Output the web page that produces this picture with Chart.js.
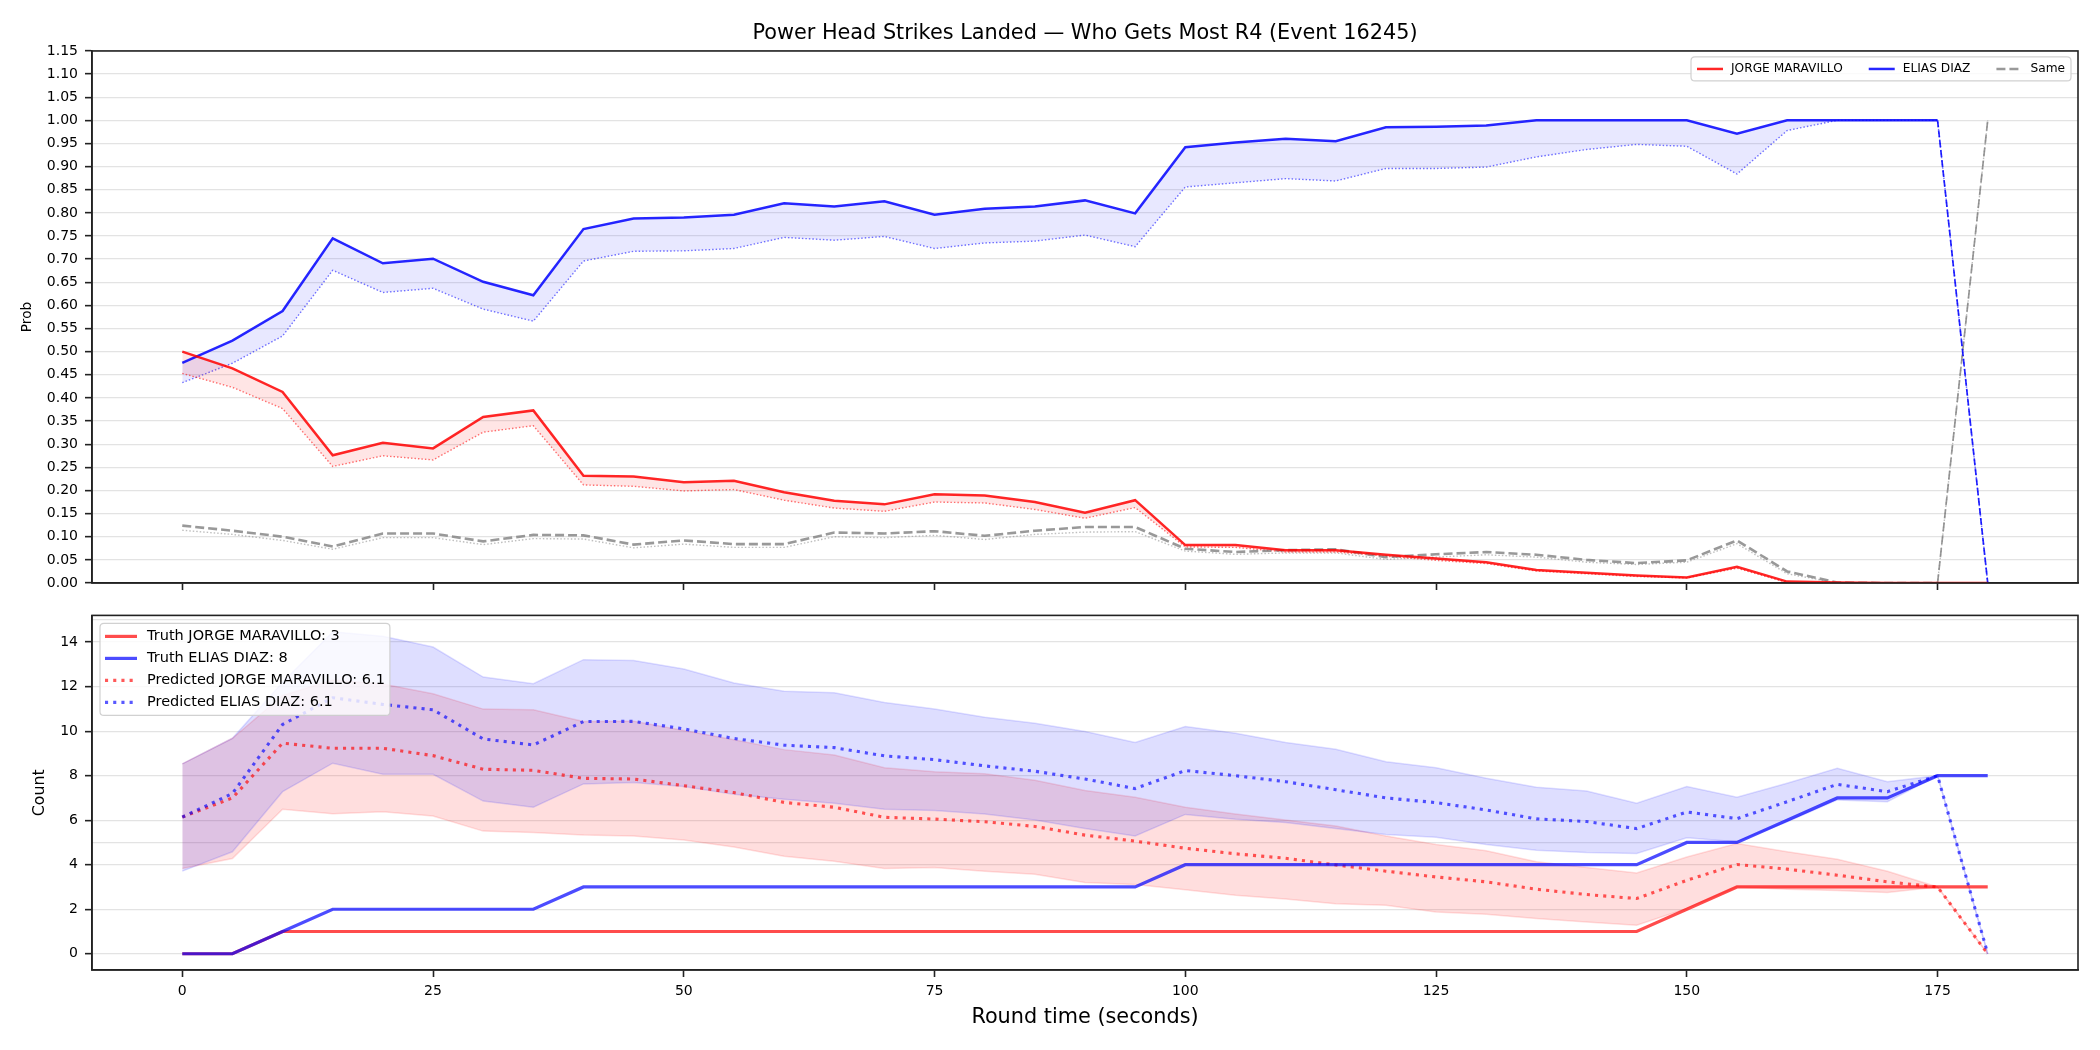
<!DOCTYPE html>
<html>
<head>
<meta charset="utf-8">
<script src="https://cdn.jsdelivr.net/npm/chart.js@4.4.1/dist/chart.umd.min.js"></script>
<style>
    html, body { margin: 0; padding: 0; background: #fff; }
    #wrap { position: relative; width: 2100px; height: 1050px; }
    #wrap canvas { position: absolute; left: 0; }
</style>
</head>
<body>
<div id="wrap">
    <canvas id="probChart" width="2100" height="600" style="top:0"></canvas>
    <canvas id="countChart" width="2100" height="450" style="top:600px"></canvas>
</div>
<script>
// ----- DATA ----- //
const roundTime = [0, 5, 10, 15, 20, 25, 30, 35, 40, 45, 50, 55, 60, 65, 70, 75, 80, 85, 90,
    95, 100, 105, 110, 115, 120, 125, 130, 135, 140, 145, 150, 155, 160, 165, 170, 175, 180];
const timeTicks = [0, 25, 50, 75, 100, 125, 150, 175];
const probTicks = [0.00, 0.05, 0.10, 0.15, 0.20, 0.25, 0.30, 0.35, 0.40, 0.45, 0.50, 0.55,
    0.60, 0.65, 0.70, 0.75, 0.80, 0.85, 0.90, 0.95, 1.00, 1.05, 1.10, 1.15];
const countTicks = [0, 2, 4, 6, 8, 10, 12, 14];
const extraCountGrid = [5, 15];

const playerA = 'JORGE MARAVILLO';
const playerB = 'ELIAS DIAZ';

// top panel: probability who gets most R4
const probA = [0.500, 0.464, 0.413, 0.276, 0.303, 0.291, 0.359, 0.373, 0.232, 0.230, 0.218, 0.221,
    0.196, 0.178, 0.170, 0.192, 0.189, 0.175, 0.152, 0.179, 0.082, 0.082, 0.071, 0.071, 0.061,
    0.053, 0.045, 0.028, 0.022, 0.016, 0.012, 0.035, 0.003, 0.001, 0, 0, 0];
const probALow = [0.453, 0.423, 0.377, 0.252, 0.275, 0.266, 0.326, 0.340, 0.212, 0.209, 0.199, 0.202,
    0.179, 0.162, 0.155, 0.175, 0.173, 0.159, 0.140, 0.163, 0.078, 0.077, 0.067, 0.067, 0.058,
    0.049, 0.042, 0.026, 0.020, 0.014, 0.011, 0.032, 0.001, 0, 0, 0, 0];
const probB = [0.476, 0.524, 0.588, 0.745, 0.691, 0.701, 0.651, 0.622, 0.765, 0.788, 0.790, 0.796,
    0.821, 0.814, 0.825, 0.796, 0.809, 0.814, 0.827, 0.799, 0.942, 0.952, 0.960, 0.955, 0.985,
    0.986, 0.989, 1.0, 1.0, 1.0, 1.0, 0.971, 1.0, 1.0, 1.0, 1.0, 0];
const probBLow = [0.433, 0.475, 0.534, 0.676, 0.628, 0.637, 0.592, 0.566, 0.696, 0.717, 0.718, 0.723,
    0.747, 0.741, 0.749, 0.723, 0.735, 0.739, 0.752, 0.727, 0.856, 0.865, 0.874, 0.869, 0.896,
    0.896, 0.899, 0.921, 0.937, 0.948, 0.944, 0.884, 0.978, 1.0, 1.0, 1.0, 0];
const probSame = [0.124, 0.113, 0.100, 0.079, 0.107, 0.107, 0.090, 0.104, 0.103, 0.083, 0.092, 0.084,
    0.084, 0.109, 0.107, 0.112, 0.102, 0.113, 0.121, 0.121, 0.074, 0.067, 0.071, 0.073, 0.056,
    0.062, 0.067, 0.061, 0.050, 0.043, 0.049, 0.092, 0.025, 0.001, 0, 0, 1.0];
const probSameLow = [0.114, 0.105, 0.092, 0.073, 0.098, 0.098, 0.083, 0.096, 0.095, 0.076, 0.084, 0.077,
    0.077, 0.100, 0.098, 0.103, 0.094, 0.105, 0.110, 0.111, 0.069, 0.062, 0.065, 0.065, 0.051,
    0.056, 0.061, 0.056, 0.045, 0.040, 0.045, 0.085, 0.020, 0, 0, 0, 1.0];

// bottom panel: counts
const truthA = [0, 0, 1, 1, 1, 1, 1, 1, 1, 1, 1, 1, 1, 1, 1, 1, 1, 1, 1, 1, 1, 1, 1, 1, 1,
    1, 1, 1, 1, 1, 2, 3, 3, 3, 3, 3, 3];
const truthB = [0, 0, 1, 2, 2, 2, 2, 2, 3, 3, 3, 3, 3, 3, 3, 3, 3, 3, 3, 3, 4, 4, 4, 4, 4,
    4, 4, 4, 4, 4, 5, 5, 6, 7, 7, 8, 8];
const predA = [6.14, 7.0, 9.46, 9.23, 9.23, 8.9, 8.29, 8.24, 7.88, 7.85, 7.55, 7.24, 6.80, 6.58,
    6.13, 6.05, 5.93, 5.72, 5.33, 5.06, 4.74, 4.49, 4.29, 3.99, 3.71, 3.45, 3.23, 2.90, 2.66,
    2.48, 3.30, 4.01, 3.80, 3.53, 3.23, 3.0, 0];
const predB = [6.14, 7.2, 10.3, 11.5, 11.2, 10.96, 9.65, 9.38, 10.43, 10.44, 10.1, 9.67, 9.37, 9.26,
    8.89, 8.72, 8.44, 8.2, 7.85, 7.42, 8.23, 8.0, 7.73, 7.37, 7.0, 6.79, 6.46, 6.06, 5.94,
    5.62, 6.37, 6.07, 6.83, 7.61, 7.28, 8.0, 0];
const predAHi = [8.53, 9.68, 11.6, 12.3, 12.12, 11.68, 10.99, 10.96, 10.43, 10.45, 10.03, 9.61, 9.17,
    8.93, 8.36, 8.18, 8.09, 7.79, 7.33, 7.03, 6.58, 6.28, 6.01, 5.74, 5.29, 4.91, 4.63, 4.13,
    3.87, 3.63, 4.35, 4.95, 4.58, 4.25, 3.71, 3.0, 0];
const predALo = [3.83, 4.28, 6.49, 6.29, 6.38, 6.19, 5.51, 5.45, 5.33, 5.29, 5.11, 4.80, 4.38, 4.16,
    3.83, 3.87, 3.71, 3.57, 3.20, 3.11, 2.88, 2.63, 2.46, 2.25, 2.18, 1.88, 1.77, 1.58, 1.43,
    1.28, 2.03, 3.0, 2.90, 2.84, 2.75, 3.0, 0];
const predBHi = [8.53, 9.68, 12.2, 14.46, 14.26, 13.78, 12.43, 12.13, 13.21, 13.17, 12.79, 12.16, 11.79,
    11.73, 11.29, 10.99, 10.62, 10.36, 9.98, 9.49, 10.21, 9.91, 9.49, 9.19, 8.63, 8.36, 7.88,
    7.48, 7.31, 6.76, 7.51, 7.03, 7.66, 8.33, 7.73, 8.0, 0];
const predBLo = [3.71, 4.58, 7.28, 8.56, 8.06, 8.06, 6.86, 6.58, 7.63, 7.69, 7.51, 7.16, 6.94, 6.76,
    6.49, 6.43, 6.28, 6.01, 5.63, 5.29, 6.26, 6.04, 5.90, 5.63, 5.36, 5.23, 4.91, 4.65, 4.55,
    4.50, 5.21, 5.03, 5.93, 6.91, 6.83, 8.0, 0];

// ----- STYLE HELPERS ----- //
Chart.defaults.font.family = "'DejaVu Sans', sans-serif";
Chart.defaults.color = '#000';

const FONT = "'DejaVu Sans', sans-serif";
const SPINE = '#222';
const GRID = 'rgba(0,0,0,0.11)';
const lastIdx = roundTime.length - 1;

// draws the top/right spines so the axes look boxed
const frame = {
    id: 'frame',
    afterDatasetsDraw(chart) {
        const { ctx, chartArea: a } = chart;
        ctx.save();
        ctx.strokeStyle = SPINE;
        ctx.lineWidth = 1.6;
        ctx.strokeRect(a.left, a.top, a.right - a.left, a.bottom - a.top);
        ctx.restore();
    }
};

function roundRect(ctx, x, y, w, h, r) {
    ctx.beginPath();
    ctx.moveTo(x + r, y);
    ctx.lineTo(x + w - r, y);
    ctx.quadraticCurveTo(x + w, y, x + w, y + r);
    ctx.lineTo(x + w, y + h - r);
    ctx.quadraticCurveTo(x + w, y + h, x + w - r, y + h);
    ctx.lineTo(x + r, y + h);
    ctx.quadraticCurveTo(x, y + h, x, y + h - r);
    ctx.lineTo(x, y + r);
    ctx.quadraticCurveTo(x, y, x + r, y);
    ctx.closePath();
}

// legend drawn inside the plot area, with a framed box
const boxLegend = {
    id: 'boxLegend',
    afterDraw(chart, args, opts) {
        if (!opts.items) return;
        const { ctx, chartArea: area } = chart;
        const sets = opts.items.map(i => chart.data.datasets[i]);
        ctx.save();
        ctx.font = `${opts.fontSize}px ${FONT}`;
        const widths = sets.map(ds => ctx.measureText(ds.label).width);
        let boxW, boxH;
        if (opts.horizontal) {
            boxW = opts.pad * 2 + sets.length * (opts.handle + opts.gap) +
                widths.reduce((a, b) => a + b, 0) + (sets.length - 1) * opts.colGap;
            boxH = opts.rowH;
        } else {
            boxW = opts.pad * 2 + opts.handle + opts.gap + Math.max(...widths);
            boxH = opts.padY * 2 + sets.length * opts.rowH;
        }
        const x0 = opts.anchor === 'right' ? area.right - opts.offsetX - boxW : area.left + opts.offsetX;
        const y0 = area.top + opts.offsetY;
        roundRect(ctx, x0, y0, boxW, boxH, 4);
        ctx.fillStyle = 'rgba(255,255,255,0.8)';
        ctx.fill();
        ctx.strokeStyle = 'rgba(204,204,204,0.9)';
        ctx.lineWidth = 1.2;
        ctx.stroke();
        ctx.textBaseline = 'middle';
        let x = x0 + opts.pad;
        sets.forEach((ds, i) => {
            const y = opts.horizontal ? y0 + boxH / 2 : y0 + opts.padY + opts.rowH * (i + 0.5);
            const hx = opts.horizontal ? x : x0 + opts.pad;
            ctx.beginPath();
            ctx.setLineDash(ds.borderDash || []);
            ctx.strokeStyle = ds.borderColor;
            ctx.lineWidth = ds.borderWidth;
            ctx.moveTo(hx, y);
            ctx.lineTo(hx + opts.handle, y);
            ctx.stroke();
            ctx.setLineDash([]);
            ctx.fillStyle = '#000';
            ctx.fillText(ds.label, hx + opts.handle + opts.gap, y);
            x += opts.handle + opts.gap + widths[i] + opts.colGap;
        });
        ctx.restore();
    }
};

function setTicks(values) {
    return scale => { scale.ticks = values.map(v => ({ value: v })); };
}

// ----- TOP PANEL: PROBABILITIES ----- //
const line = (label, data, color, width, extra) => Object.assign({
    label, data, borderColor: color, borderWidth: width, pointRadius: 0, tension: 0, fill: false
}, extra || {});

new Chart(document.getElementById('probChart'), {
    type: 'line',
    data: {
        labels: roundTime,
        datasets: [
            line(playerA, probA, 'rgba(255,0,0,0.85)', 2.5),
            line(playerB, probB, 'rgba(0,0,255,0.85)', 2.5, {
                segment: {
                    borderDash: c => c.p1DataIndex === lastIdx ? [7, 3] : undefined,
                    borderWidth: c => c.p1DataIndex === lastIdx ? 1.7 : undefined
                }
            }),
            line('Same', probSame, 'rgba(128,128,128,0.8)', 2.6, {
                borderDash: [9, 4],
                segment: { borderWidth: c => c.p1DataIndex === lastIdx ? 1.7 : undefined }
            }),
            line(playerA + ' low', probALow, 'rgba(255,0,0,0.55)', 1.4, {
                borderDash: [1.5, 2], fill: { target: 0 }, backgroundColor: 'rgba(255,0,0,0.1)'
            }),
            line(playerB + ' low', probBLow, 'rgba(0,0,255,0.55)', 1.4, {
                borderDash: [1.5, 2], fill: { target: 1 }, backgroundColor: 'rgba(0,0,255,0.09)'
            }),
            line('Same low', probSameLow, 'rgba(128,128,128,0.5)', 1.4, { borderDash: [1.5, 2] })
        ]
    },
    plugins: [frame, boxLegend],
    options: {
        responsive: false,
        animation: false,
        layout: { padding: { left: 0, right: 22, top: 0, bottom: 0 } },
        scales: {
            x: {
                type: 'linear', min: -9, max: 189,
                afterBuildTicks: setTicks(timeTicks),
                afterFit: s => { s.height = 17; },
                ticks: { display: false },
                grid: { drawOnChartArea: false, tickLength: 7, tickColor: SPINE, tickWidth: 1.6 },
                border: { color: SPINE, width: 1.6 }
            },
            y: {
                min: 0, max: 1.15,
                afterBuildTicks: setTicks(probTicks),
                afterFit: s => { s.width = 92; },
                ticks: { autoSkip: false, padding: 7, font: { size: 14 }, callback: v => v.toFixed(2) },
                grid: { color: GRID, lineWidth: 1.3, tickLength: 7, tickColor: SPINE, tickWidth: 1.6 },
                border: { color: SPINE, width: 1.6 },
                title: { display: true, text: 'Prob', font: { size: 13.7, lineHeight: 1.2 }, padding: { top: 19.3, bottom: 0 } }
            }
        },
        plugins: {
            legend: { display: false },
            tooltip: { enabled: false },
            title: {
                display: true, fullSize: false,
                text: 'Power Head Strikes Landed \u2014 Who Gets Most R4 (Event 16245)',
                font: { size: 20.8, weight: 'normal', lineHeight: 1.2 },
                color: '#000',
                padding: { top: 21, bottom: 5 }
            },
            boxLegend: {
                items: [0, 1, 2], horizontal: true, anchor: 'right',
                offsetX: 7, offsetY: 6, fontSize: 12.2,
                pad: 6, handle: 26, gap: 8, colGap: 26, rowH: 24
            }
        }
    }
});

// ----- BOTTOM PANEL: COUNTS ----- //
new Chart(document.getElementById('countChart'), {
    type: 'line',
    data: {
        labels: roundTime,
        datasets: [
            line(`Truth ${playerA}: ${truthA[lastIdx]}`, truthA, 'rgba(255,0,0,0.7)', 3.2, { order: 2 }),
            line(`Truth ${playerB}: ${truthB[lastIdx]}`, truthB, 'rgba(0,0,255,0.7)', 3.2, { order: 1 }),
            line(`Predicted ${playerA}: ${predA[0].toFixed(1)}`, predA, 'rgba(255,0,0,0.65)', 3.1,
                { borderDash: [3.1, 5.1], order: 4 }),
            line(`Predicted ${playerB}: ${predB[0].toFixed(1)}`, predB, 'rgba(0,0,255,0.65)', 3.1,
                { borderDash: [3.1, 5.1], order: 3 }),
            line(playerA + ' hi', predAHi, 'rgba(255,0,0,0.13)', 1.5, { order: 8 }),
            line(playerA + ' lo', predALo, 'rgba(255,0,0,0.13)', 1.5,
                { order: 7, fill: { target: 4 }, backgroundColor: 'rgba(255,0,0,0.13)' }),
            line(playerB + ' hi', predBHi, 'rgba(0,0,255,0.13)', 1.5, { order: 6 }),
            line(playerB + ' lo', predBLo, 'rgba(0,0,255,0.13)', 1.5,
                { order: 5, fill: { target: 6 }, backgroundColor: 'rgba(0,0,255,0.13)' })
        ]
    },
    plugins: [frame, boxLegend],
    options: {
        responsive: false,
        animation: false,
        layout: { padding: { left: 0, right: 22, top: 14, bottom: 0 } },
        scales: {
            x: {
                type: 'linear', min: -9, max: 189,
                afterBuildTicks: setTicks(timeTicks),
                afterFit: s => { s.height = 80; },
                ticks: { autoSkip: false, padding: 6, font: { size: 14 }, maxRotation: 0 },
                grid: { drawOnChartArea: false, tickLength: 7, tickColor: SPINE, tickWidth: 1.6 },
                border: { color: SPINE, width: 1.6 },
                title: {
                    display: true, text: 'Round time (seconds)',
                    font: { size: 20.8, lineHeight: 1.2 }, padding: { top: 0, bottom: 20 }
                }
            },
            y: {
                min: -0.73, max: 15.2,
                afterBuildTicks: setTicks(countTicks),
                afterFit: s => { s.width = 92; },
                ticks: { autoSkip: false, padding: 7, font: { size: 14 } },
                grid: { color: GRID, lineWidth: 1.3, tickLength: 7, tickColor: SPINE, tickWidth: 1.6 },
                border: { color: SPINE, width: 1.6 },
                title: { display: true, text: 'Count', font: { size: 15.8, lineHeight: 1.2 }, padding: { top: 30.5, bottom: 0 } }
            },
            yGrid: {
                position: 'left', min: -0.73, max: 15.2,
                afterBuildTicks: setTicks(extraCountGrid),
                afterFit: s => { s.width = 0; },
                ticks: { display: false },
                grid: { color: GRID, lineWidth: 1.3, drawTicks: false },
                border: { display: false }
            }
        },
        plugins: {
            legend: { display: false },
            tooltip: { enabled: false },
            boxLegend: {
                items: [0, 1, 2, 3], horizontal: false, anchor: 'left',
                offsetX: 8, offsetY: 8, fontSize: 14.5,
                pad: 5, padY: 2, handle: 32, gap: 10, rowH: 22
            }
        }
    }
});
</script>
</body>
</html>
